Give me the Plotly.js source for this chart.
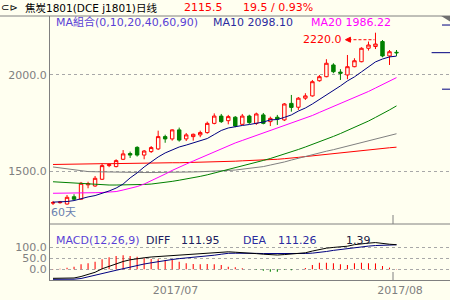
<!DOCTYPE html>
<html><head><meta charset="utf-8">
<script src="https://cdn.plot.ly/plotly-3.0.1.min.js"></script>
<style>html,body{margin:0;padding:0;background:#fffff0;}#c{width:450px;height:300px;}</style>
</head><body><div id="c"></div>
<script>
// ---- data ----
const openP  = [1333,1335,1328,1366,1353,1428,1422,1457,1528,1523,1561,1591,1623,1583,1601,1615,1679,1667,1714,1667,1679,1688,1700,1748,1786,1762,1780,1743,1786,1748,1792,1757,1780,1766,1852,1832,1879,1891,1970,1991,2052,2015,2000,2043,2069,2139,2148,2174,2099,2118];
const highP  = [1344,1344,1375,1379,1443,1444,1474,1540,1540,1561,1609,1601,1629,1609,1630,1710,1689,1717,1726,1698,1695,1710,1757,1800,1797,1792,1786,1797,1793,1804,1802,1783,1792,1854,1896,1885,1905,1974,2000,2082,2061,2030,2104,2087,2144,2174,2220,2182,2130,2130];
const lowP   = [1323,1330,1325,1349,1351,1410,1418,1453,1520,1519,1557,1568,1575,1561,1594,1609,1647,1658,1653,1656,1658,1676,1694,1743,1750,1743,1728,1740,1745,1740,1743,1734,1740,1760,1809,1818,1870,1887,1965,1988,2009,1974,1978,2040,2066,2127,2135,2092,2052,2099];
const closeP = [1335,1338,1363,1353,1436,1434,1462,1528,1533,1554,1589,1583,1583,1604,1622,1679,1667,1714,1661,1688,1691,1700,1748,1786,1757,1783,1734,1786,1752,1797,1748,1774,1770,1849,1831,1879,1891,1965,1991,2061,2017,2009,2043,2074,2139,2156,2161,2099,2121,2115.5];
const ma10 = [1338,1338,1341,1346,1357,1365,1372,1383,1396,1411,1432,1464,1490,1521,1547,1573,1594,1609,1625,1635,1646,1654,1669,1690,1711,1724,1732,1737,1742,1747,1755,1766,1768,1779,1792,1812,1828,1849,1872,1896,1917,1943,1969,1990,2016,2042,2068,2083,2094,2098.10];
const ma20 = [1384,1384,1384,1384,1384,1385,1387,1388,1391,1393,1401,1409,1419,1432,1448,1466,1484,1503,1521,1536,1552,1568,1583,1599,1615,1630,1646,1659,1672,1685,1698,1711,1724,1734,1747,1760,1773,1789,1805,1820,1836,1852,1867,1883,1898,1914,1932,1951,1969,1986.22];
const ma40 = [1444,1442,1439,1436,1433,1431,1428,1427,1427,1427,1427,1427,1428,1430,1432,1436,1441,1446,1452,1458,1465,1472,1480,1489,1497,1506,1516,1525,1535,1545,1555,1565,1576,1587,1599,1612,1625,1638,1651,1665,1680,1695,1711,1727,1742,1760,1779,1797,1818,1839];
const ma60 = [1521,1516,1509,1504,1500,1497,1496,1495,1494,1493,1492,1492,1492,1492,1492,1492,1493,1493,1493,1494,1495,1496,1497,1498,1500,1503,1505,1509,1513,1518,1523,1531,1538,1547,1557,1567,1576,1584,1594,1603,1611,1620,1629,1638,1647,1656,1666,1675,1684,1694];
const ma90 = [1534,1535,1535,1536,1536,1537,1537,1538,1538,1539,1539,1540,1540,1541,1541,1542,1542,1543,1543,1544,1544,1545,1545,1546,1546,1550,1551,1553,1554,1556,1557,1559,1561,1564,1566,1571,1575,1579,1583,1588,1591,1594,1599,1604,1608,1612,1616,1619,1621,1624];
const diff = [-41,-41,-41,-39.5,-32.7,-23.6,-13.6,2.3,13.6,25,35.5,43.2,48.6,52.3,55.9,58.2,61.4,63.6,65.9,67.7,69.5,71.4,74.1,76.4,78.6,79.5,77.7,76.4,74.1,71.4,68.6,65.9,65,67,69.5,71.4,75,83,91,96,99.5,102,105,112,117,119,121.5,117,114,111.95];
const dea  = [-45.5,-45.5,-45.5,-45,-41.8,-35,-28.2,-21.4,-12.3,-4.5,2.7,10.5,17.3,24.1,29.5,35.5,40.9,44.5,48.6,51.4,53.6,55.9,60.4,64.1,68.6,72.7,73.2,73.9,74,72.4,71.6,71.4,70.5,69.5,70.5,71,72,73.5,76,81,86,90.5,95,98.5,102,105.5,108,109.5,110.2,111.26];
const macd = [1,2,7,12,22.7,27,34.5,45.5,54.5,60.4,63.6,60.4,57.3,50,47,45.5,42.4,45,34.5,27,24,22.7,24,22.7,19.7,12,9,5,0,-2,-6,-11,-11,-2,-4,0,6,19.5,30,30,27,22.7,19.7,27,30,27,27,15,7.6,1.39];
const xTickLabels = ['2017/07','2017/08'];
const xTickPos = [17.47, 49.5];
const monthStart = 48.5;
const rightMarks = [2260, 2116, 1926];

const idx = openP.map((_, i) => i);
const BG = '#fffff0';
const NUMF = {family:'DejaVu Sans', size:11, color:'#808080'};

const traces = [
  {type:'scatter', mode:'lines', x:idx, y:ma90, line:{color:'#ff0000', width:1}, hoverinfo:'skip'},
  {type:'scatter', mode:'lines', x:idx, y:ma60, line:{color:'#808080', width:1}, hoverinfo:'skip'},
  {type:'scatter', mode:'lines', x:idx, y:ma40, line:{color:'#008000', width:1}, hoverinfo:'skip'},
  {type:'scatter', mode:'lines', x:idx, y:ma20, line:{color:'#ff00ff', width:1}, hoverinfo:'skip'},
  {type:'scatter', mode:'lines', x:idx, y:ma10, line:{color:'#000080', width:1}, hoverinfo:'skip'},
  {type:'candlestick', x:idx, open:openP, high:highP, low:lowP, close:closeP, whiskerwidth:0,
   increasing:{line:{color:'#ff0000', width:1}, fillcolor:BG},
   decreasing:{line:{color:'#008000', width:1}, fillcolor:'#008000'}, hoverinfo:'skip'},
  {type:'bar', x:idx, y:macd, width:0.15, xaxis:'x', yaxis:'y2',
   marker:{color:macd.map(v => v >= 0 ? '#ff0000' : '#008000'), line:{width:0}}, hoverinfo:'skip'},
  {type:'scatter', mode:'lines', x:idx, y:dea, xaxis:'x', yaxis:'y2', line:{color:'#000080', width:1}, hoverinfo:'skip'},
  {type:'scatter', mode:'lines', x:idx, y:diff, xaxis:'x', yaxis:'y2', line:{color:'#000000', width:1}, hoverinfo:'skip'}
];

const hiIdx = highP.indexOf(Math.max(...highP));
const hiVal = highP[hiIdx];

function ann(text, x, y, color, extra) {
  return Object.assign({xref:'paper', yref:'paper', x:x, y:y, text:text, showarrow:false,
    xanchor:'left', yanchor:'middle', borderpad:0,
    font:{family:'DejaVu Sans, Noto Sans CJK SC', size:11, color:color}}, extra || {});
}

const layout = {
  width:450, height:300,
  margin:{l:50, r:0, t:16, b:20, pad:0},
  paper_bgcolor:BG, plot_bgcolor:BG,
  showlegend:false,
  xaxis:{range:[-0.43, 56.63], anchor:'y2', showgrid:false, zeroline:false,
    showline:true, linecolor:'#808080', linewidth:1, ticks:'',
    tickvals:xTickPos, ticktext:xTickLabels, tickfont:NUMF,
    rangeslider:{visible:false}, fixedrange:true},
  yaxis:{domain:[0.2121, 1], range:[1224, 2307], tickvals:[1500, 2000], ticktext:['1500.0','2000.0'],
    showgrid:true, gridcolor:'#a8a8a8', griddash:'dot', gridwidth:1, zeroline:false,
    showline:true, linecolor:'#808080', linewidth:1, ticks:'', tickfont:NUMF, fixedrange:true},
  yaxis2:{domain:[0, 0.2121], range:[-48.6, 205.9], tickvals:[0, 50, 100], ticktext:['0.0','50.0','100.0'],
    showgrid:true, gridcolor:'#a8a8a8', griddash:'dot', gridwidth:1, zeroline:false,
    showline:true, linecolor:'#808080', linewidth:1, ticks:'', tickfont:NUMF, fixedrange:true},
  shapes:[
    {type:'line', xref:'paper', yref:'paper', x0:-0.125, x1:1, y0:1, y1:1, line:{color:'#808080', width:1}},
    {type:'line', xref:'paper', yref:'paper', x0:0, x1:1, y0:0.2121, y1:0.2121, line:{color:'#808080', width:1}},
    {type:'path', xref:'paper', yref:'paper', path:'M 0.978 1 L 1 1 L 1 0.979 Z', fillcolor:'#707070', line:{width:0}},
    {type:'line', xref:'x', yref:'paper', x0:monthStart, x1:monthStart, y0:0, y1:0.0303, line:{color:'#808080', width:1}},
    {type:'line', xref:'x', yref:'paper', x0:monthStart, x1:monthStart, y0:0.2121, y1:0.2462, line:{color:'#808080', width:1}},
    {type:'line', xref:'paper', yref:'y', x0:0.98, x1:1, y0:rightMarks[0], y1:rightMarks[0], line:{color:'#000080', width:1}},
    {type:'line', xref:'paper', yref:'y', x0:0.954, x1:1, y0:rightMarks[1], y1:rightMarks[1], line:{color:'#000080', width:1}},
    {type:'line', xref:'paper', yref:'y', x0:0.98, x1:1, y0:rightMarks[2], y1:rightMarks[2], line:{color:'#000080', width:1}},
    {type:'line', xref:'x', yref:'y', xsizemode:'pixel', ysizemode:'pixel', xanchor:hiIdx, yanchor:hiVal,
     x0:-27, x1:-1, y0:-7, y1:-7, line:{color:'#ff0000', width:1, dash:'3px,2px'}},
    {type:'path', xref:'x', yref:'y', xsizemode:'pixel', ysizemode:'pixel', xanchor:hiIdx, yanchor:hiVal,
     path:'M -30 -7 L -25 -4.5 L -25 -9.5 Z', fillcolor:'#ff0000', line:{color:'#ff0000', width:1}}
  ],
  annotations:[
    ann('⊂⊳', -0.125, 1.032, '#000000', {font:{family:'DejaVu Sans', size:10, color:'#000000'}}),
    ann('焦炭1801(DCE j1801)日线', -0.066, 1.032, '#000000', {font:{family:'DejaVu Sans, Noto Sans CJK SC', size:10.5, color:'#000000'}}),
    ann(closeP[closeP.length-1].toFixed(1), 0.3325, 1.032, '#ff0000'),
    ann('19.5 / 0.93%', 0.48, 1.032, '#ff0000'),
    ann('MA組合(0,10,20,40,60,90)', 0.0125, 0.9754, '#5a3fd6', {font:{family:'DejaVu Sans, Noto Sans CJK TC', size:11, color:'#5a3fd6'}}),
    ann('MA10 ' + ma10[ma10.length-1].toFixed(2), 0.405, 0.9754, '#2b2ba0'),
    ann('MA20 ' + ma20[ma20.length-1].toFixed(2), 0.65, 0.9754, '#ff00ff'),
    {xref:'x', yref:'y', x:hiIdx, y:hiVal, xshift:-31, yshift:-7, text:hiVal.toFixed(1), showarrow:false,
     xanchor:'right', yanchor:'middle', font:{family:'DejaVu Sans', size:11, color:'#ff0000'}},
    ann('60天', 0.0, 0.2538, '#6a7fb0', {font:{family:'DejaVu Sans, Noto Sans CJK SC', size:11, color:'#6a7fb0'}}),
    ann('MACD(12,26,9)', 0.0125, 0.1515, '#5a3fd6'),
    ann('DIFF', 0.2375, 0.1515, '#202060'),
    ann(diff[diff.length-1].toFixed(2), 0.325, 0.1515, '#202060'),
    ann('DEA', 0.48, 0.1515, '#2b2ba0'),
    ann(dea[dea.length-1].toFixed(2), 0.5675, 0.1515, '#2b2ba0'),
    ann(macd[macd.length-1].toFixed(2), 0.7375, 0.1515, '#202040')
  ]
};

Plotly.newPlot('c', traces, layout, {staticPlot:true, displayModeBar:false});
</script>
</body></html>
